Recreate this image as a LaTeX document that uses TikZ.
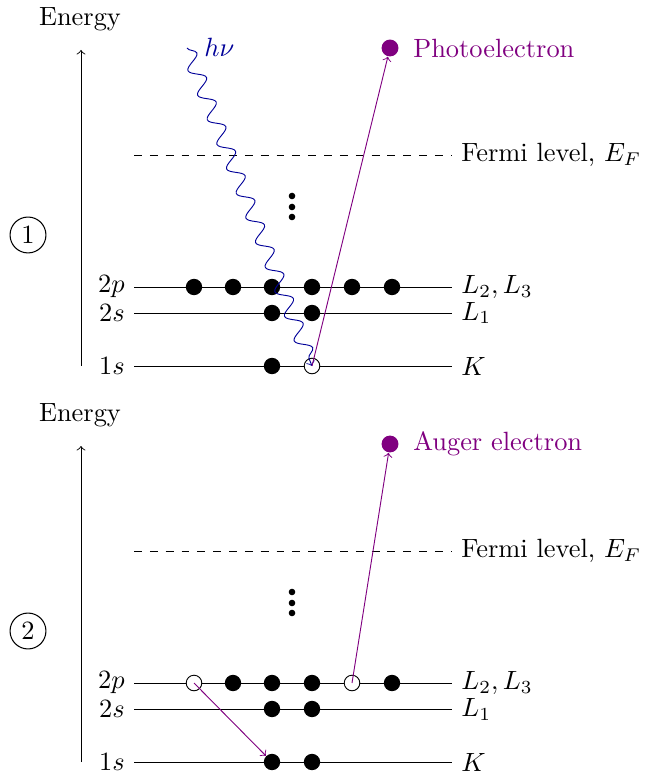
\documentclass[tikz,border=0pt]{standalone}
\usetikzlibrary{decorations.pathmorphing}
\colorlet{hnucol}{blue!60!black}
\colorlet{augcol}{violet}
\begin{document}
\begin{tikzpicture}[x=0.3788pt,y=-0.3788pt,
  level/.style={line width=0.35pt},
  fermi/.style={line width=0.35pt,dashed},
  el/.style={circle,fill=black,inner sep=0pt,minimum size=6.2pt},
  hole/.style={circle,draw=black,fill=white,inner sep=0pt,minimum size=5.9pt,line width=0.35pt},
  vdot/.style={circle,fill=black,inner sep=0pt,minimum size=2.5pt},
  num/.style={circle,draw,inner sep=0pt,minimum size=13.6pt},
  outel/.style={circle,fill=augcol,inner sep=0pt,minimum size=6.4pt},
  trans/.style={augcol,->,line width=0.35pt},
  axis/.style={->,line width=0.35pt},
]
\useasboundingbox (0,0) rectangle (644,778);

% ---------------- panel 1 ----------------
\node (aen) at (80,19) {Energy};
\coordinate (aax0) at (81,366);
\coordinate (aax1) at (81,50);
\draw[axis] (aax0) -- (aax1);
\node[num] (anum) at (28,235) {1};

\coordinate (afl0) at (134,155);
\coordinate (afl1) at (452,155);
\draw[fermi] (afl0) -- (afl1);
\node[anchor=west] (aflab) at (afl1) {Fermi level, $E_F$};

\node[vdot] (av1) at (292,196) {};
\node[vdot] (av2) at (292,207) {};
\node[vdot] (av3) at (292,217) {};

\foreach \n/\y/\l/\r in {p/287/2p/{L_2, L_3}, s/313/2s/{L_1}, k/366/1s/{K}}{
  \coordinate (a\n0) at (134,\y);
  \coordinate (a\n1) at (452,\y);
  \draw[level] (a\n0) -- (a\n1);
  \node[anchor=east] (a\n lab) at (a\n0) {$\l$};
  \node[anchor=west] (a\n rlab) at (a\n1) {$\r$};
}
\foreach \i/\x in {1/194,2/233,3/272,4/312,5/352,6/392}
  \node[el] (ap\i) at (\x,287) {};
\node[el] (as1) at (272,313) {};
\node[el] (as2) at (312,313) {};
\node[el] (ak1) at (272,366) {};
\node[hole] (ak2) at (312,366) {};

\node[outel] (ape) at (390,48) {};
\node[anchor=west,text=augcol] (apelab) at (404,48) {Photoelectron};

\coordinate (aw) at (187,48);
\node[anchor=west,text=hnucol] (ahnu) at (195,47) {$h\nu$};
\draw[hnucol,->,line width=0.35pt,decorate,
      decoration={snake,amplitude=2.8pt,segment length=10pt,post length=3pt}]
  (aw) -- (ak2.center);
\draw[trans] (ak2.center) -- (ape);

% ---------------- panel 2 ----------------
\begin{scope}[shift={(0,396)}]
\node (ben) at (80,19) {Energy};
\coordinate (bax0) at (81,366);
\coordinate (bax1) at (81,50);
\draw[axis] (bax0) -- (bax1);
\node[num] (bnum) at (28,235) {2};

\coordinate (bfl0) at (134,155);
\coordinate (bfl1) at (452,155);
\draw[fermi] (bfl0) -- (bfl1);
\node[anchor=west] (bflab) at (bfl1) {Fermi level, $E_F$};

\node[vdot] (bv1) at (292,196) {};
\node[vdot] (bv2) at (292,207) {};
\node[vdot] (bv3) at (292,217) {};

\foreach \n/\y/\l/\r in {p/287/2p/{L_2, L_3}, s/313/2s/{L_1}, k/366/1s/{K}}{
  \coordinate (b\n0) at (134,\y);
  \coordinate (b\n1) at (452,\y);
  \draw[level] (b\n0) -- (b\n1);
  \node[anchor=east] (b\n lab) at (b\n0) {$\l$};
  \node[anchor=west] (b\n rlab) at (b\n1) {$\r$};
}
\node[hole] (bp1) at (194,287) {};
\node[el] (bp2) at (233,287) {};
\node[el] (bp3) at (272,287) {};
\node[el] (bp4) at (312,287) {};
\node[hole] (bp5) at (352,287) {};
\node[el] (bp6) at (392,287) {};
\node[el] (bs1) at (272,313) {};
\node[el] (bs2) at (312,313) {};
\node[el] (bk1) at (272,366) {};
\node[el] (bk2) at (312,366) {};

\node[outel] (bae) at (390,48) {};
\node[anchor=west,text=augcol] (baelab) at (404,48) {Auger electron};

\draw[trans] (bp1.center) -- (bk1);
\draw[trans] (bp5.center) -- (bae);
\end{scope}
\end{tikzpicture}
\end{document}
